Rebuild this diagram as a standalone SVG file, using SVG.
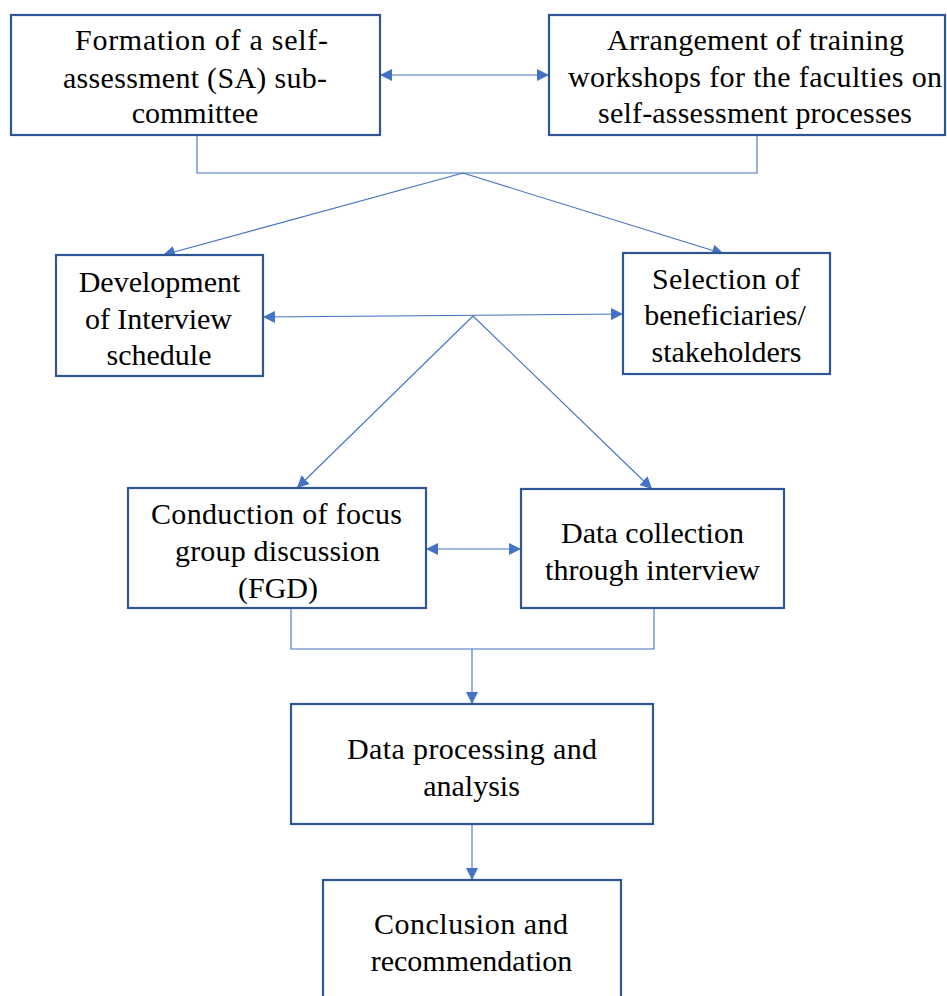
<svg xmlns="http://www.w3.org/2000/svg" width="947" height="996" viewBox="0 0 947 996">
<style>
.box{fill:#fff;stroke:#2F5597;stroke-width:2.2}
.t{font-family:"Liberation Serif","Times New Roman",serif;font-size:30px;fill:#000;text-anchor:middle}
.c{fill:none;stroke:#4472C4;stroke-width:1.1}
</style>
<defs>
<marker id="ah" markerUnits="userSpaceOnUse" markerWidth="13" markerHeight="12" refX="12" refY="6" orient="auto-start-reverse" viewBox="0 0 13 12">
<path d="M0,0 L12,6 L0,12 z" fill="#4472C4"/>
</marker>
</defs>
<rect width="947" height="996" fill="#fff"/>
<g id="connectors">
<polyline class="c" points="197,135 197,173 757,173 757,135"/>
<line class="c" x1="380" y1="75" x2="549" y2="75" marker-start="url(#ah)" marker-end="url(#ah)"/>
<line class="c" x1="463" y1="173" x2="163" y2="255" marker-end="url(#ah)"/>
<line class="c" x1="463" y1="173" x2="724" y2="254" marker-end="url(#ah)"/>
<line class="c" x1="263" y1="317" x2="623" y2="314" marker-start="url(#ah)" marker-end="url(#ah)"/>
<line class="c" x1="473" y1="316" x2="297" y2="488" marker-end="url(#ah)"/>
<line class="c" x1="473" y1="316" x2="652" y2="489" marker-end="url(#ah)"/>
<line class="c" x1="426" y1="549" x2="521" y2="549" marker-start="url(#ah)" marker-end="url(#ah)"/>
<polyline class="c" points="291,608 291,649 654,649 654,608"/>
<line class="c" x1="472" y1="649" x2="472" y2="704" marker-end="url(#ah)"/>
<line class="c" x1="472" y1="824" x2="472" y2="880" marker-end="url(#ah)"/>
</g>
<g id="n1">
<rect class="box" x="11" y="15" width="369" height="120"/>
<text class="t" x="201.5" y="50" textLength="253" lengthAdjust="spacing">Formation of a self-</text>
<text class="t" x="195" y="88" textLength="264" lengthAdjust="spacing">assessment (SA) sub-</text>
<text class="t" x="195" y="123">committee</text>
</g>
<g id="n2">
<rect class="box" x="549" y="15" width="396" height="120"/>
<text class="t" x="755.5" y="50" textLength="297" lengthAdjust="spacing">Arrangement of training</text>
<text class="t" x="755" y="87" textLength="374" lengthAdjust="spacing">workshops for the faculties on</text>
<text class="t" x="755" y="123" textLength="314" lengthAdjust="spacing">self-assessment processes</text>
</g>
<g id="n3">
<rect class="box" x="56" y="255" width="207" height="121"/>
<text class="t" x="159.5" y="292">Development</text>
<text class="t" x="158.5" y="329" textLength="147" lengthAdjust="spacing">of Interview</text>
<text class="t" x="159" y="365">schedule</text>
</g>
<g id="n4">
<rect class="box" x="623" y="253" width="207" height="121"/>
<text class="t" x="726" y="289" textLength="148" lengthAdjust="spacing">Selection of</text>
<text class="t" x="725" y="325">beneficiaries/</text>
<text class="t" x="726.5" y="362">stakeholders</text>
</g>
<g id="n5">
<rect class="box" x="128" y="488" width="298" height="120"/>
<text class="t" x="276.5" y="524" textLength="251" lengthAdjust="spacing">Conduction of focus</text>
<text class="t" x="277.5" y="561" textLength="205" lengthAdjust="spacing">group discussion</text>
<text class="t" x="278" y="598">(FGD)</text>
</g>
<g id="n6">
<rect class="box" x="521" y="489" width="263" height="119"/>
<text class="t" x="652.5" y="543" textLength="183" lengthAdjust="spacing">Data collection</text>
<text class="t" x="652.5" y="580" textLength="215" lengthAdjust="spacing">through interview</text>
</g>
<g id="n7">
<rect class="box" x="291" y="704" width="362" height="120"/>
<text class="t" x="472" y="759" textLength="250" lengthAdjust="spacing">Data processing and</text>
<text class="t" x="471.5" y="796">analysis</text>
</g>
<g id="n8">
<rect class="box" x="323" y="880" width="298" height="130"/>
<text class="t" x="471" y="934" textLength="194" lengthAdjust="spacing">Conclusion and</text>
<text class="t" x="471.5" y="971">recommendation</text>
</g>
</svg>
